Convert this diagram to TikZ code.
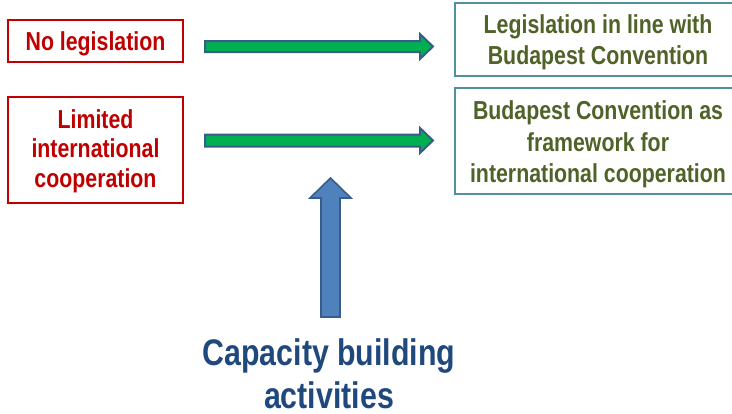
\documentclass[tikz,border=0pt]{standalone}
\usepackage{fontspec}
\newfontfamily\narrowsans{Liberation Sans}[FakeStretch=0.82]
\definecolor{startred}{RGB}{192,0,0}
\definecolor{goalteal}{RGB}{80,145,155}
\definecolor{goalolive}{RGB}{79,98,40}
\definecolor{flowgreen}{RGB}{0,176,80}
\definecolor{flowedge}{RGB}{56,93,138}
\definecolor{liftblue}{RGB}{79,129,189}
\definecolor{titleblue}{RGB}{31,73,125}
\tikzset{
  startbox/.style={draw=startred, line width=1.4pt, fill=white},
  goalbox/.style={draw=goalteal, line width=1.4pt, fill=white},
  starttext/.style={text=startred, align=center, inner sep=0pt,
    font=\narrowsans\bfseries\fontsize{26}{29.5}\selectfont},
  goaltext/.style={text=goalolive, align=center, inner sep=0pt,
    font=\narrowsans\bfseries\fontsize{26}{31.5}\selectfont},
  flowarrow/.style={fill=flowgreen, draw=flowedge, line width=2pt, line join=miter},
  liftarrow/.style={fill=liftblue, draw=flowedge, line width=1.6pt, line join=miter},
}
\begin{document}
\begin{tikzpicture}[x=1pt, y=-1pt]
\useasboundingbox (0,0) rectangle (732,413);
\clip (0,0) rectangle (732,413);

% starting situation boxes
\draw[startbox] (8,20) rectangle (183,62);
\node[starttext] (nolaw) at (95.5,44) {No legislation};
\draw[startbox] (8,97) rectangle (183,203);
\node[starttext] (limcoop) at (95.5,151) {Limited\\international\\cooperation};

% target boxes
\draw[goalbox] (455,3) rectangle (741,76);
\node[goaltext] (inline) at (598,42.5) {Legislation in line with\\Budapest Convention};
\draw[goalbox] (455,88) rectangle (741,194);
\node[goaltext] (frame) at (598,144.5) {Budapest Convention as\\framework for\\international cooperation};

% transition arrows
\draw[flowarrow] (205,41) -- (420,41) -- (420,34) -- (433,46.5) -- (420,59)
  -- (420,52) -- (205,52) -- cycle;
\draw[flowarrow] (205,134.5) -- (420,134.5) -- (420,128) -- (433,140.5) -- (420,153)
  -- (420,146.5) -- (205,146.5) -- cycle;

% capacity building lever
\draw[liftarrow] (321,317) -- (321,198) -- (310,198) -- (330.5,178) -- (351,198)
  -- (340,198) -- (340,317) -- cycle;
\node[text=titleblue, align=center, inner sep=0pt,
  font=\narrowsans\bfseries\fontsize{37}{43}\selectfont] (capacity) at (329,373.5)
  {Capacity building\\activities};
\end{tikzpicture}
\end{document}
